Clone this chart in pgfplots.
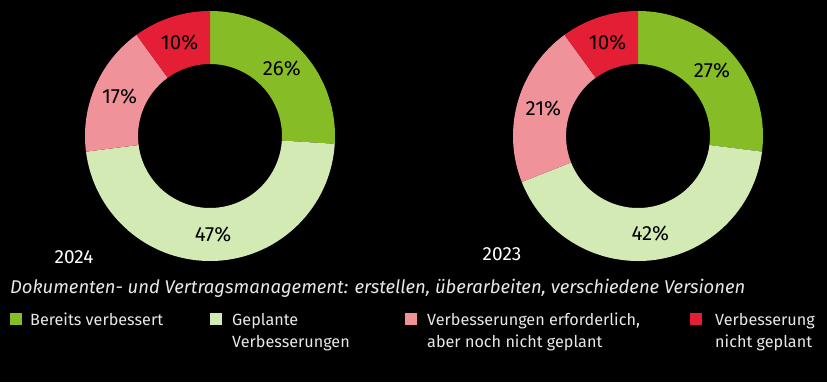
\documentclass[border=0pt]{standalone}
\usepackage{pgfplots}
\usepackage{pgfplotstable}
\pgfplotsset{compat=1.18}
\usepackage{fontspec}
\setmainfont{Fira Sans}
\definecolor{cGreen}{HTML}{86BC25}
\definecolor{cLight}{HTML}{D4EAB5}
\definecolor{cPink}{HTML}{F0929A}
\definecolor{cRed}{HTML}{E31E35}
\definecolor{cText}{HTML}{E8E8E8}

\pgfplotstableread{
idx value color
0 26 cGreen
1 47 cLight
2 17 cPink
3 10 cRed
}\dataA
\pgfplotstableread{
idx value color
0 27 cGreen
1 42 cLight
2 21 cPink
3 10 cRed
}\dataB

\newcommand\pctfont{\fontsize{20.5bp}{24bp}\selectfont}
\newcommand\donut[1]{%
  \def\cum{0}%
  \pgfplotsforeachungrouped \i in {0,...,3} {%
    \pgfplotstablegetelem{\i}{value}\of{#1}\pgfmathtruncatemacro\v{\pgfplotsretval}%
    \pgfplotstablegetelem{\i}{color}\of{#1}\edef\c{\pgfplotsretval}%
    \pgfmathsetmacro\aa{90-3.6*\cum}%
    \pgfmathsetmacro\ab{90-3.6*(\cum+\v)}%
    \pgfmathsetmacro\am{(\aa+\ab)/2}%
    \edef\temp{\noexpand\fill[\c] ([shift={(\aa:125bp)}]axis cs:0,0) arc[start angle=\aa, end angle=\ab, radius=125bp] -- ([shift={(\ab:72bp)}]axis cs:0,0) arc[start angle=\ab, end angle=\aa, radius=72bp] -- cycle;
      \noexpand\node[text=black, font=\noexpand\pctfont] at ([shift={(\am:98.5bp)}]axis cs:0,0) {\v\noexpand\%};}%
    \temp
    \pgfmathsetmacro\cum{\cum+\v}%
  }%
}

\begin{document}
\begin{tikzpicture}[x=1bp,y=1bp]
\fill[black] (0,0) rectangle (827,382);
\begin{axis}[at={(210bp,246bp)}, anchor=center, width=250bp, height=250bp, scale only axis,
  xmin=-1, xmax=1, ymin=-1, ymax=1, hide axis]
\donut{\dataA}
\end{axis}
\begin{axis}[at={(638bp,246bp)}, anchor=center, width=250bp, height=250bp, scale only axis,
  xmin=-1, xmax=1, ymin=-1, ymax=1, hide axis]
\donut{\dataB}
\end{axis}
\node[anchor=base, text=white, font=\fontsize{19bp}{22bp}\selectfont] at (74,119) {2024};
\node[anchor=base, text=white, font=\fontsize{19bp}{22bp}\selectfont] at (502,122) {2023};
\node[anchor=base west, inner sep=0pt, text=cText, font=\fontsize{18.45bp}{20bp}\selectfont\itshape] at (10,89) {Dokumenten- und Vertragsmanagement: erstellen, überarbeiten, verschiedene Versionen};
\begin{scope}[every node/.style={anchor=base west, inner sep=0pt, text=cText, font=\fontsize{16.2bp}{20bp}\selectfont}]
\fill[cGreen] (10,57) rectangle (22,69);
\node at (30,57) {Bereits verbessert};
\fill[cLight] (210,57) rectangle (222,69);
\node at (232,57) {Geplante};
\node at (232,35) {Verbesserungen};
\fill[cPink] (405,57) rectangle (417,69);
\node at (427,57) {Verbesserungen erforderlich,};
\node at (427,35) {aber noch nicht geplant};
\fill[cRed] (690,57) rectangle (702,69);
\node at (715,57) {Verbesserung};
\node at (715,35) {nicht geplant};
\end{scope}
\end{tikzpicture}
\end{document}
